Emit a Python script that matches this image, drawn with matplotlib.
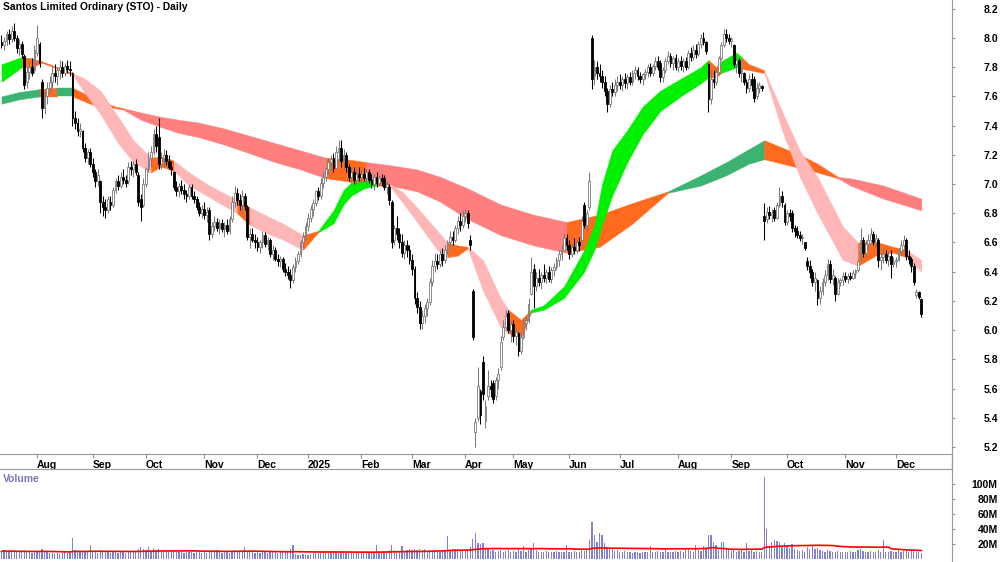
import numpy as np
import pandas as pd
import matplotlib
matplotlib.use("Agg")
import matplotlib.pyplot as plt
from matplotlib.lines import Line2D
from matplotlib.transforms import ScaledTranslation

plt.rcParams['font.family'] = ['Liberation Sans', 'DejaVu Sans']

title = "Santos Limited Ordinary (STO) - Daily"

# ASX trading days shown on the chart
asx_holidays = ["2024-12-25", "2024-12-26", "2025-01-01", "2025-01-27",
                "2025-04-18", "2025-04-21", "2025-04-25", "2025-06-09"]
dates = pd.bdate_range("2024-07-12", "2025-12-15", freq="C", holidays=asx_holidays)

# daily prices, one line per month
opens = [
    7.97,7.95,7.98,8.03,7.99,8.05,8.00,7.93,7.96,7.88,7.70,7.77,7.80,7.78,
    7.90,7.96,7.70,7.52,7.60,7.66,7.70,7.76,7.74,7.78,7.80,7.76,7.81,7.79,7.76,7.45,7.42,7.36,7.36,7.25,7.18,7.22,
    7.14,7.08,7.02,7.02,6.88,6.84,6.82,6.88,6.86,6.96,7.02,6.99,7.05,7.03,7.02,7.12,7.10,7.14,7.06,6.90,6.86,
    7.00,7.10,7.18,7.22,7.34,7.32,7.14,7.18,7.20,7.16,7.12,7.08,6.98,6.95,6.99,6.96,6.93,6.92,6.98,6.92,6.90,6.84,6.80,
    6.83,6.79,6.82,6.66,6.71,6.74,6.70,6.73,6.69,6.72,6.68,6.76,6.88,6.94,6.89,6.86,6.92,6.84,6.64,6.66,6.62,
    6.60,6.57,6.60,6.65,6.59,6.62,6.52,6.55,6.49,6.47,6.49,6.42,6.40,6.38,6.34,6.43,6.47,6.52,6.60,6.64,
    6.71,6.77,6.83,6.87,6.95,6.92,7.01,7.05,7.10,7.15,7.18,7.11,7.22,7.25,7.16,7.20,7.12,7.05,7.08,7.03,7.07,
    7.05,7.07,7.04,7.08,7.03,7.00,7.05,7.01,7.04,7.04,6.98,6.98,6.88,6.62,6.70,6.66,6.60,6.53,6.58,6.55,
    6.48,6.42,6.22,6.16,6.05,6.10,6.15,6.19,6.33,6.44,6.47,6.45,6.52,6.48,6.55,6.60,6.64,6.62,6.70,6.75,6.72,
    6.78,6.80,6.62,6.27,5.30,5.40,5.58,5.78,5.38,5.55,5.62,5.64,5.55,5.66,5.75,5.95,6.02,6.12,6.00,
    6.04,5.96,5.98,5.86,5.95,6.05,6.07,6.25,6.42,6.30,6.36,6.33,6.38,6.36,6.40,6.35,6.41,6.43,6.48,6.52,6.55,6.63,
    6.58,6.52,6.57,6.55,6.60,6.62,6.86,6.72,6.84,8.00,7.74,7.80,7.76,7.74,7.70,7.64,7.55,7.65,7.63,7.68,
    7.70,7.68,7.72,7.69,7.73,7.70,7.76,7.78,7.74,7.72,7.75,7.77,7.80,7.76,7.81,7.84,7.83,7.73,7.78,7.84,7.88,7.83,7.86,
    7.80,7.84,7.81,7.84,7.80,7.90,7.87,7.92,7.89,7.96,8.00,7.97,7.82,7.58,7.72,7.70,7.77,7.86,7.95,8.03,8.00,
    7.98,7.95,7.82,7.85,7.76,7.76,7.70,7.66,7.72,7.72,7.60,7.66,7.67,6.78,6.76,6.81,6.79,6.82,6.77,6.86,6.92,6.86,
    6.74,6.80,6.80,6.70,6.68,6.65,6.63,6.60,6.47,6.44,6.40,6.33,6.34,6.22,6.27,6.33,6.38,6.45,6.35,6.36,6.25,6.33,6.34,
    6.37,6.35,6.37,6.36,6.39,6.41,6.50,6.62,6.53,6.59,6.62,6.66,6.60,6.62,6.48,6.50,6.52,6.48,6.51,6.45,
    6.47,6.48,6.54,6.58,6.62,6.51,6.49,6.44,6.24,6.26,6.21,
]
highs = [
    8.02,8.01,8.05,8.06,8.08,8.10,8.02,7.99,7.98,7.89,7.80,7.84,7.86,7.95,
    8.09,7.97,7.72,7.64,7.70,7.74,7.80,7.82,7.80,7.85,7.84,7.83,7.85,7.84,7.77,7.50,7.45,7.42,7.37,7.28,7.24,7.25,
    7.18,7.10,7.10,7.03,6.92,6.90,6.92,6.92,6.98,7.04,7.06,7.08,7.10,7.06,7.15,7.16,7.16,7.17,7.08,6.93,7.04,
    7.12,7.22,7.26,7.38,7.40,7.45,7.22,7.24,7.23,7.20,7.16,7.09,7.02,7.01,7.03,7.00,6.96,7.00,7.00,6.95,6.92,6.88,6.86,
    6.88,6.84,6.84,6.74,6.78,6.77,6.76,6.76,6.74,6.76,6.78,6.92,6.99,6.97,6.93,6.96,6.94,6.86,6.70,6.70,6.66,
    6.64,6.62,6.68,6.67,6.64,6.63,6.58,6.57,6.52,6.51,6.50,6.46,6.44,6.42,6.45,6.50,6.54,6.62,6.67,6.74,
    6.80,6.86,6.90,6.96,6.98,7.04,7.08,7.12,7.18,7.20,7.21,7.26,7.30,7.30,7.24,7.22,7.14,7.12,7.12,7.10,7.12,
    7.10,7.11,7.10,7.10,7.07,7.07,7.08,7.06,7.07,7.06,7.02,7.00,6.89,6.72,6.78,6.70,6.66,6.62,6.62,6.58,
    6.52,6.44,6.26,6.20,6.14,6.18,6.22,6.36,6.48,6.53,6.52,6.55,6.56,6.58,6.62,6.68,6.68,6.72,6.78,6.80,6.82,
    6.83,6.82,6.65,6.28,5.40,5.75,5.60,5.82,5.52,5.73,5.66,5.66,5.68,5.74,5.96,6.07,6.14,6.14,6.06,
    6.07,6.02,5.99,5.98,6.08,6.10,6.22,6.50,6.45,6.40,6.42,6.40,6.45,6.42,6.44,6.43,6.46,6.50,6.55,6.58,6.66,6.66,
    6.62,6.60,6.63,6.62,6.64,6.78,6.88,6.82,7.08,8.02,7.85,7.84,7.82,7.78,7.74,7.66,7.68,7.70,7.72,7.74,
    7.75,7.74,7.76,7.75,7.77,7.78,7.81,7.80,7.77,7.76,7.79,7.82,7.83,7.82,7.87,7.88,7.85,7.80,7.86,7.91,7.90,7.88,7.89,
    7.86,7.88,7.86,7.87,7.92,7.94,7.95,7.96,7.98,8.03,8.04,7.98,7.83,7.78,7.78,7.80,7.88,7.97,8.06,8.06,8.03,
    8.01,7.96,7.88,7.86,7.80,7.77,7.72,7.75,7.76,7.74,7.70,7.70,7.68,6.87,6.84,6.85,6.83,6.84,6.88,6.98,6.95,6.87,
    6.82,6.83,6.82,6.72,6.71,6.68,6.66,6.60,6.50,6.48,6.42,6.40,6.35,6.30,6.36,6.41,6.49,6.48,6.42,6.37,6.36,6.36,6.40,
    6.40,6.39,6.40,6.41,6.42,6.49,6.70,6.64,6.62,6.66,6.70,6.68,6.66,6.63,6.53,6.56,6.55,6.54,6.55,6.50,
    6.50,6.56,6.62,6.65,6.63,6.55,6.50,6.46,6.28,6.27,6.22,
]
lows = [
    7.93,7.92,7.95,7.96,7.97,7.98,7.90,7.88,7.86,7.65,7.66,7.72,7.74,7.76,
    7.88,7.80,7.45,7.48,7.55,7.62,7.66,7.70,7.68,7.72,7.73,7.74,7.76,7.74,7.40,7.38,7.33,7.32,7.22,7.15,7.14,7.12,
    7.05,6.98,6.99,6.80,6.78,6.77,6.80,6.82,6.84,6.94,6.96,6.97,7.00,6.98,7.00,7.06,7.05,7.06,6.85,6.75,6.84,
    6.98,7.08,7.12,7.20,7.22,7.10,7.10,7.12,7.13,7.10,7.06,6.96,6.92,6.91,6.93,6.90,6.88,6.90,6.90,6.87,6.82,6.78,6.77,
    6.76,6.74,6.62,6.63,6.68,6.68,6.66,6.67,6.64,6.66,6.66,6.74,6.84,6.86,6.82,6.80,6.82,6.62,6.56,6.60,6.56,
    6.54,6.53,6.56,6.57,6.55,6.50,6.48,6.47,6.44,6.43,6.40,6.37,6.35,6.29,6.32,6.40,6.45,6.50,6.56,6.62,
    6.68,6.74,6.78,6.85,6.89,6.90,6.97,7.02,7.07,7.09,7.08,7.10,7.16,7.12,7.10,7.08,7.02,7.01,7.00,7.00,7.02,
    7.01,7.02,7.00,7.01,6.97,6.96,6.98,6.99,6.99,6.96,6.93,6.86,6.56,6.58,6.62,6.56,6.50,6.49,6.50,6.45,
    6.38,6.18,6.12,6.01,6.01,6.05,6.10,6.17,6.30,6.40,6.42,6.43,6.44,6.46,6.52,6.57,6.58,6.60,6.66,6.68,6.70,
    6.74,6.70,6.55,5.93,5.20,5.38,5.36,5.52,5.33,5.52,5.54,5.50,5.52,5.60,5.73,5.93,6.00,5.98,5.92,
    5.92,5.90,5.82,5.84,5.94,6.00,6.05,6.24,6.15,6.27,6.30,6.28,6.33,6.32,6.33,6.32,6.37,6.41,6.44,6.48,6.54,6.55,
    6.49,6.50,6.52,6.53,6.54,6.60,6.70,6.68,6.82,7.65,7.68,7.72,7.70,7.66,7.60,7.49,7.53,7.60,7.60,7.64,
    7.65,7.64,7.66,7.65,7.68,7.68,7.72,7.71,7.69,7.68,7.72,7.73,7.74,7.74,7.78,7.78,7.70,7.70,7.76,7.82,7.80,7.78,7.78,
    7.77,7.78,7.77,7.78,7.79,7.84,7.85,7.86,7.88,7.93,7.95,7.89,7.49,7.55,7.66,7.68,7.75,7.85,7.94,7.97,7.96,
    7.94,7.80,7.76,7.73,7.70,7.68,7.62,7.63,7.64,7.56,7.58,7.62,7.64,6.62,6.73,6.76,6.74,6.75,6.76,6.84,6.84,6.72,
    6.72,6.75,6.67,6.64,6.63,6.61,6.59,6.55,6.41,6.36,6.30,6.27,6.17,6.18,6.24,6.30,6.34,6.32,6.31,6.20,6.24,6.30,6.31,
    6.33,6.32,6.34,6.35,6.36,6.40,6.48,6.50,6.50,6.56,6.60,6.58,6.57,6.43,6.41,6.46,6.46,6.44,6.36,6.43,
    6.43,6.47,6.51,6.55,6.48,6.45,6.40,6.31,6.22,6.21,6.09,
]
closes = [
    7.95,7.98,8.03,7.99,8.05,8.00,7.93,7.96,7.89,7.68,7.77,7.80,7.76,7.92,
    8.00,7.83,7.52,7.60,7.66,7.70,7.76,7.74,7.78,7.80,7.76,7.81,7.79,7.78,7.45,7.42,7.36,7.38,7.25,7.18,7.22,7.14,
    7.08,7.02,7.06,6.88,6.84,6.82,6.90,6.86,6.96,7.02,6.99,7.05,7.03,7.01,7.12,7.10,7.14,7.08,6.88,6.84,7.00,
    7.10,7.18,7.22,7.34,7.26,7.14,7.18,7.20,7.16,7.12,7.10,6.98,6.95,6.99,6.96,6.93,6.92,6.98,6.92,6.90,6.84,6.80,6.83,
    6.79,6.81,6.66,6.71,6.74,6.70,6.73,6.69,6.72,6.68,6.76,6.88,6.94,6.89,6.86,6.92,6.85,6.64,6.66,6.62,6.60,
    6.57,6.60,6.65,6.59,6.62,6.52,6.55,6.49,6.47,6.49,6.42,6.40,6.38,6.34,6.43,6.47,6.52,6.60,6.64,6.71,
    6.77,6.83,6.87,6.95,6.92,7.01,7.05,7.10,7.15,7.17,7.11,7.22,7.25,7.16,7.20,7.12,7.05,7.08,7.03,7.07,7.05,
    7.07,7.04,7.08,7.03,7.00,7.05,7.01,7.04,7.02,6.98,7.00,6.89,6.60,6.70,6.66,6.60,6.53,6.58,6.55,6.48,
    6.42,6.22,6.16,6.05,6.10,6.15,6.19,6.33,6.44,6.47,6.45,6.52,6.48,6.55,6.60,6.64,6.62,6.70,6.75,6.72,6.78,
    6.80,6.73,6.58,5.95,5.37,5.62,5.42,5.56,5.48,5.62,5.60,5.53,5.66,5.70,5.92,6.02,6.10,6.00,6.04,
    5.96,5.99,5.86,5.95,6.05,6.07,6.18,6.40,6.30,6.36,6.33,6.38,6.36,6.40,6.35,6.41,6.43,6.48,6.52,6.55,6.63,6.58,
    6.52,6.57,6.55,6.60,6.58,6.75,6.72,6.80,7.02,7.72,7.80,7.76,7.74,7.70,7.64,7.55,7.65,7.63,7.68,7.70,
    7.68,7.72,7.69,7.73,7.70,7.76,7.78,7.74,7.72,7.75,7.77,7.80,7.76,7.81,7.84,7.80,7.73,7.78,7.84,7.88,7.83,7.86,7.80,
    7.84,7.81,7.84,7.80,7.90,7.87,7.92,7.89,7.96,8.00,7.97,7.91,7.58,7.72,7.70,7.77,7.86,7.95,8.03,8.00,7.98,
    7.99,7.82,7.85,7.76,7.78,7.70,7.66,7.72,7.68,7.59,7.66,7.68,7.66,6.75,6.81,6.79,6.80,6.77,6.86,6.92,6.88,6.74,
    6.80,6.78,6.70,6.68,6.65,6.63,6.64,6.56,6.44,6.40,6.33,6.36,6.22,6.27,6.33,6.38,6.45,6.35,6.38,6.25,6.33,6.34,6.37,
    6.35,6.37,6.36,6.39,6.41,6.47,6.62,6.53,6.59,6.62,6.66,6.60,6.63,6.48,6.50,6.52,6.48,6.51,6.45,6.47,
    6.48,6.54,6.58,6.62,6.51,6.49,6.44,6.33,6.26,6.23,6.11,
]
# daily volume, millions of shares
volume = [
    10,12,9,11,10,11,9,10,9,12,10,9,8,10,
    11,10,13,10,9,8,8,7,8,7,8,9,8,9,28,12,11,9,10,9,10,19,
    9,10,8,12,10,9,11,8,9,10,8,9,10,8,9,11,9,10,14,16,13,
    12,16,11,15,12,14,11,10,9,10,11,9,10,9,10,8,9,10,9,8,9,10,8,
    9,8,11,10,11,12,9,8,9,10,8,10,12,11,10,9,16,11,9,10,8,
    9,8,10,9,8,9,10,9,8,10,11,9,10,14,19,7,5,6,7,6,
    6,7,8,9,8,9,10,9,8,9,10,9,8,9,10,8,9,10,8,9,10,
    9,10,8,9,11,10,19,9,10,11,9,12,19,12,11,10,18,11,12,14,
    12,13,12,14,12,13,11,12,10,11,12,10,11,12,31,11,14,13,14,12,11,
    12,14,16,27,35,22,20,22,15,13,11,12,10,11,12,10,11,12,10,
    11,10,14,11,17,10,12,14,21,12,10,9,10,11,9,10,9,11,10,9,10,19,
    10,9,11,10,9,12,11,14,25,49,32,23,35,32,21,16,13,14,11,12,
    10,9,11,9,10,8,9,10,8,9,10,9,17,10,9,11,10,9,15,10,9,10,11,
    10,11,9,12,14,11,10,19,12,11,18,13,32,32,23,19,12,23,23,14,12,
    11,12,10,11,12,10,21,11,12,10,11,9,10,110,40,18,23,26,24,23,17,21,
    18,15,20,13,12,11,12,10,16,14,19,13,15,12,11,10,12,11,10,9,11,10,9,
    10,9,11,10,9,12,14,11,10,9,11,10,9,12,10,25,9,10,11,9,
    10,12,9,11,14,10,11,13,9,10,8,
]

# short-term trend band: edges, state of the segment that starts at each date
fast_dates = ["2024-07-12","2024-07-24","2024-07-30","2024-08-05","2024-08-13","2024-08-21","2024-08-28",
              "2024-09-05","2024-09-16","2024-09-24","2024-10-03","2024-10-09","2024-10-16","2024-10-24",
              "2024-11-05","2024-11-20","2024-11-27","2024-12-06","2024-12-16","2024-12-30","2025-01-08",
              "2025-01-16","2025-01-22","2025-01-28","2025-02-04","2025-02-11","2025-02-18","2025-02-25",
              "2025-03-05","2025-03-17","2025-03-21","2025-03-27","2025-04-02","2025-04-10","2025-04-23",
              "2025-04-29","2025-05-06","2025-05-12","2025-05-19","2025-05-29","2025-06-11","2025-06-17",
              "2025-06-20","2025-06-26","2025-07-04","2025-07-14","2025-07-23","2025-08-04","2025-08-14",
              "2025-08-19","2025-08-22","2025-08-26","2025-09-03","2025-09-05","2025-09-10","2025-09-18",
              "2025-09-29","2025-10-08","2025-10-17","2025-10-31","2025-11-10","2025-11-20","2025-11-28",
              "2025-12-05","2025-12-15"]
fast_top = [7.82,7.87,7.86,7.84,7.80,7.76,7.72,7.64,7.46,7.30,7.18,7.19,7.16,7.08,6.99,6.89,6.84,6.78,
            6.73,6.65,6.68,6.82,6.96,7.01,7.02,7.03,7.00,6.95,6.84,6.68,6.60,6.58,6.57,6.48,6.22,6.14,
            6.07,6.14,6.17,6.30,6.55,6.72,7.00,7.23,7.37,7.53,7.64,7.72,7.80,7.85,7.80,7.84,7.90,7.87,
            7.82,7.78,7.50,7.23,7.05,6.71,6.60,6.60,6.57,6.55,6.48]
fast_bottom = [7.70,7.80,7.80,7.83,7.79,7.75,7.62,7.48,7.28,7.15,7.08,7.12,7.09,6.99,6.91,6.80,6.72,6.66,
               6.62,6.55,6.67,6.73,6.86,6.92,6.97,6.99,6.99,6.88,6.74,6.55,6.50,6.51,6.56,6.27,6.02,5.98,
               5.95,6.12,6.14,6.22,6.40,6.55,6.72,6.92,7.15,7.34,7.50,7.60,7.69,7.73,7.73,7.76,7.80,7.79,
               7.78,7.76,7.37,7.05,6.80,6.48,6.44,6.52,6.53,6.50,6.40]
fast_state = ["up","mixed","mixed","mixed","mixed","down","down","down","down","down","mixed","mixed","down",
              "down","down","mixed","down","down","down","mixed","up","up","up","up","up","mixed","down",
              "down","down","down","mixed","mixed","down","down","down","mixed","mixed","up","up","up","up",
              "up","up","up","up","up","up","up","up","mixed","mixed","up","up","mixed","mixed","down","down",
              "down","down","down","mixed","mixed","mixed","down","down"]

# long-term trend band
slow_dates = ["2024-07-12","2024-07-23","2024-08-02","2024-08-13","2024-08-21","2024-08-30","2024-09-05",
              "2024-09-13","2024-09-18","2024-09-27","2024-10-09","2024-10-18","2024-10-30","2024-11-13",
              "2024-11-27","2024-12-11","2024-12-27","2025-01-13","2025-01-23","2025-02-05","2025-02-18",
              "2025-03-05","2025-03-18","2025-04-02","2025-04-23","2025-05-13","2025-05-30","2025-06-19",
              "2025-07-08","2025-07-28","2025-08-14","2025-08-28","2025-09-10","2025-09-18","2025-09-29",
              "2025-10-08","2025-10-17","2025-10-29","2025-11-05","2025-11-24","2025-12-15"]
slow_top = [7.60,7.63,7.65,7.66,7.66,7.60,7.57,7.53,7.52,7.49,7.46,7.44,7.42,7.38,7.33,7.28,7.23,7.18,
            7.17,7.15,7.13,7.10,7.05,6.97,6.86,6.79,6.74,6.79,6.87,6.95,7.06,7.15,7.24,7.30,7.25,7.20,
            7.14,7.05,7.04,6.99,6.90]
slow_bottom = [7.55,7.58,7.60,7.60,7.60,7.55,7.53,7.52,7.51,7.44,7.39,7.35,7.32,7.27,7.21,7.15,7.10,7.04,
               7.02,7.00,6.99,6.95,6.88,6.76,6.65,6.58,6.53,6.57,6.73,6.94,6.99,7.06,7.14,7.17,7.14,7.11,
               7.08,7.04,6.99,6.90,6.82]
slow_state = ["up","up","mixed","up","mixed","mixed","mixed","mixed","down","down","down","down","down",
              "down","down","down","down","mixed","mixed","down","down","down","down","down","down","down",
              "mixed","mixed","mixed","up","up","up","up","mixed","mixed","mixed","mixed","down","down",
              "down","down"]

fast_colors = {"up": "#00F000", "down": "#FFB6B6", "mixed": "#FF6A1E"}
slow_colors = {"up": "#3CB371", "down": "#FF7F7F", "mixed": "#FF6A1E"}

x = np.arange(len(dates))
o, h, l, c = (np.array(v) for v in (opens, highs, lows, closes))


def draw_band(ax, when, top, bottom, state, palette, z):
    xs = dates.get_indexer(pd.to_datetime(when))
    top = np.array(top)
    bottom = np.array(bottom)
    k0 = 0
    for k in range(1, len(xs)):
        if state[k] != state[k0] or k == len(xs) - 1:
            col = palette[state[k0]]
            ax.fill_between(xs[k0:k + 1], top[k0:k + 1], bottom[k0:k + 1],
                            color=col, ec=col, lw=0.3, zorder=z)
            k0 = k


fig = plt.figure(figsize=(10, 5.62), dpi=100)
ax = fig.add_axes([0, 1 - 454 / 562, 0.952, 454 / 562])
vax = fig.add_axes([0, 0, 0.952, 93 / 562])

draw_band(ax, slow_dates, slow_top, slow_bottom, slow_state, slow_colors, 1)
draw_band(ax, fast_dates, fast_top, fast_bottom, fast_state, fast_colors, 2)

up = c >= o
grey = "#7a7a7a"
body_lo = np.minimum(o, c)
body_h = np.maximum(np.abs(c - o), 0.006)
ax.vlines(x[up], l[up], h[up], color=grey, lw=0.75, zorder=3)
ax.vlines(x[~up], l[~up], h[~up], color="black", lw=0.75, zorder=3)
ax.bar(x[up], body_h[up], bottom=body_lo[up], width=0.72, color="white", edgecolor=grey, lw=0.6, zorder=4)
ax.bar(x[~up], body_h[~up], bottom=body_lo[~up], width=0.72, color="black", edgecolor="black", lw=0.6, zorder=4)

xmin, xmax = -0.59, 375.1
ax.set_xlim(xmin, xmax)
ax.set_ylim(5.152, 8.260)

# month ticks at the first trading day of each month
month_start = [i for i in range(1, len(dates)) if dates[i].month != dates[i - 1].month]
month_lbl = ["2025" if dates[i].month == 1 else dates[i].strftime("%b") for i in month_start]
ax.set_xticks(month_start)
ax.set_xticklabels(month_lbl, fontsize=7.5, fontweight="bold", ha="left")
shift = ScaledTranslation(2 / 72, 0, fig.dpi_scale_trans)
for t in ax.get_xticklabels():
    t.set_transform(t.get_transform() + shift)
ax.tick_params(axis="x", length=3, color="#909090", pad=1)

ax.yaxis.tick_right()
pticks = np.round(np.arange(5.2, 8.21, 0.2), 1)
ax.set_yticks(pticks)
ax.set_yticklabels([f"{v:.1f}" for v in pticks], fontsize=7.5, fontweight="bold")
ax.tick_params(axis="y", length=2.5, pad=30.5, color="#909090")
for t in ax.get_yticklabels():
    t.set_ha("right")

for s in ("left", "top"):
    ax.spines[s].set_visible(False)
ax.spines["bottom"].set_color("#9a9a9a")
ax.spines["right"].set_color("#9a9a9a")

ax.text(3 / 952, 1 - 2 / 454, title, transform=ax.transAxes, va="top", ha="left",
        fontsize=7.4, fontweight="bold")

# volume panel
vma = pd.Series(volume).rolling(50, min_periods=1).mean()
vax.bar(x, volume, width=0.5, color="#8080D4", lw=0, zorder=2)
vax.plot(x, vma, color="red", lw=1.2, zorder=3)
vax.set_xlim(xmin, xmax)
vax.set_ylim(-4, 120)
vax.set_xticks([])
vax.yaxis.tick_right()
vticks = [20, 40, 60, 80, 100]
vax.set_yticks(vticks)
vax.set_yticklabels([f"{v}M" for v in vticks], fontsize=7.5, fontweight="bold")
vax.tick_params(axis="y", length=2.5, pad=30.5, color="#909090")
for t in vax.get_yticklabels():
    t.set_ha("right")
for s in ("left", "bottom"):
    vax.spines[s].set_visible(False)
vax.spines["top"].set_color("#9a9a9a")
vax.spines["right"].set_color("#9a9a9a")
vax.text(3 / 952, 1 - 5 / 93, "Volume", transform=vax.transAxes, va="top", ha="left",
         fontsize=7.5, fontweight="bold", color="#7878B8")

fig.add_artist(Line2D([0.952, 0.952], [93 / 562, 1 - 454 / 562], color="#9a9a9a", lw=1,
                      transform=fig.transFigure))

fig.savefig("out.png", dpi=100)
